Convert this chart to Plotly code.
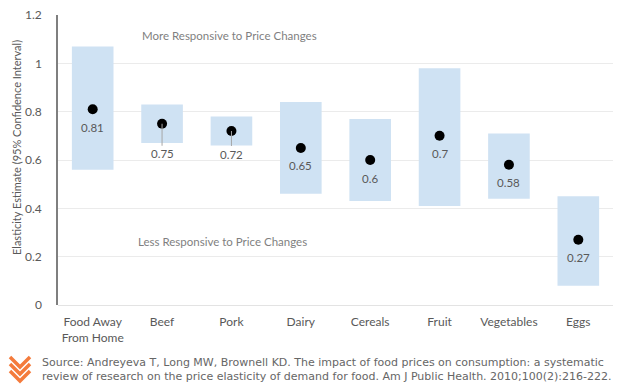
import plotly.graph_objects as go

categories = ["Food Away<br>From Home", "Beef", "Pork", "Dairy", "Cereals", "Fruit", "Vegetables", "Eggs"]
estimates = [0.81, 0.75, 0.72, 0.65, 0.60, 0.70, 0.58, 0.27]
ci_low = [0.56, 0.67, 0.66, 0.46, 0.43, 0.41, 0.44, 0.08]
ci_high = [1.07, 0.83, 0.78, 0.84, 0.77, 0.98, 0.71, 0.45]
labels = ["0.81", "0.75", "0.72", "0.65", "0.6", "0.7", "0.58", "0.27"]
leader_offsets = [0, 30, 23, 0, 0, 0, 0, 0]

# page body has an 8px margin; compensate so the plot lands where the reference has it
OFF = 8
W, H = 624, 391
X0, X1, Y0, Y1 = 58, 613, 15, 305  # plot area in window pixels
ML, MT = X0 - OFF, Y0 - OFF
MR, MB = W - (X1 - OFF), H - (Y1 - OFF)
PW, PH = X1 - X0, Y1 - Y0

def fx(px):
    return (px - X0) / PW

def fy(py):
    return 1 - (py - Y0) / PH

FONT = "Lato"
GREY = "#595959"

fig = go.Figure()
fig.add_trace(go.Bar(
    x=categories,
    y=[h - l for h, l in zip(ci_high, ci_low)],
    base=ci_low,
    width=0.6,
    marker=dict(color="rgb(207,226,243)", line=dict(width=0)),
    hoverinfo="skip",
    showlegend=False,
))
fig.add_trace(go.Scatter(
    x=categories, y=estimates, mode="markers",
    marker=dict(color="black", size=10),
    showlegend=False,
))

annotations = []
for c, v, t, off in zip(categories, estimates, labels, leader_offsets):
    if off:
        annotations.append(dict(
            x=c, y=v, xref="x", yref="y", text=t, showarrow=True,
            ax=0, ay=off, arrowhead=0, arrowwidth=1, arrowcolor="#a6a6a6",
            standoff=0, startstandoff=0,
            font=dict(family=FONT, size=11.5, color=GREY),
        ))
    else:
        annotations.append(dict(
            x=c, y=v, xref="x", yref="y", text=t, showarrow=False,
            yshift=-18, font=dict(family=FONT, size=11.5, color=GREY),
        ))

annotations.append(dict(
    x=fx(229), y=fy(35), xref="paper", yref="paper", xanchor="center", yanchor="middle",
    text="More Responsive to Price Changes", showarrow=False,
    font=dict(family=FONT, size=11.5, color="#7f7f7f"),
))
annotations.append(dict(
    x=fx(222), y=fy(241), xref="paper", yref="paper", xanchor="center", yanchor="middle",
    text="Less Responsive to Price Changes", showarrow=False,
    font=dict(family=FONT, size=11.5, color="#7f7f7f"),
))
annotations.append(dict(
    x=fx(17), y=fy(148), xref="paper", yref="paper", textangle=-90,
    xanchor="center", yanchor="middle",
    text="Elasticity Estimate (95% Confidence Interval)", showarrow=False,
    font=dict(family=FONT, size=11, color=GREY),
))
annotations.append(dict(
    x=fx(40), y=fy(370), xref="paper", yref="paper", xanchor="left", yanchor="middle",
    align="left",
    text="Source: Andreyeva T, Long MW, Brownell KD. The impact of food prices on consumption: a systematic<br>"
         "review of research on the price elasticity of demand for food. Am J Public Health. 2010;100(2):216-222.",
    showarrow=False,
    font=dict(family="DejaVu Sans", size=11, color="#666666"),
))

shapes = []
ORANGE = "#f47b3c"
for dy in (0, 7, 14):
    y0 = 357 + dy
    path = f"M {fx(10)} {fy(y0)} L {fx(20)} {fy(y0 + 10)} L {fx(30)} {fy(y0)}"
    shapes.append(dict(type="path", xref="paper", yref="paper", path=path,
                       line=dict(color=ORANGE, width=3.5)))

fig.update_layout(
    width=W, height=H,
    margin=dict(l=ML, r=MR, t=MT, b=MB, autoexpand=False),
    paper_bgcolor="white", plot_bgcolor="white",
    font=dict(family=FONT, size=12, color=GREY),
    annotations=annotations,
    shapes=shapes,
    xaxis=dict(
        showgrid=False, showline=False, zeroline=False,
        tickfont=dict(family=FONT, size=12, color=GREY),
        ticks="", fixedrange=True, ticklabelstandoff=8, automargin=False,
        ticklabeloverflow="allow",
    ),
    yaxis=dict(
        range=[0, 1.2], tickvals=[0, 0.2, 0.4, 0.6, 0.8, 1, 1.2],
        ticktext=["0", "0.2", "0.4", "0.6", "0.8", "1", "1.2"],
        showgrid=True, gridcolor="#ebebeb", gridwidth=1,
        zeroline=True, zerolinecolor="#e3e3e3", zerolinewidth=1,
        showline=True, linecolor="#7f7f7f", linewidth=1.5,
        ticks="", ticklabelstandoff=12, automargin=False,
        ticklabeloverflow="allow",
        tickfont=dict(family=FONT, size=12, color=GREY),
    ),
)

fig.write_html("out.html")
